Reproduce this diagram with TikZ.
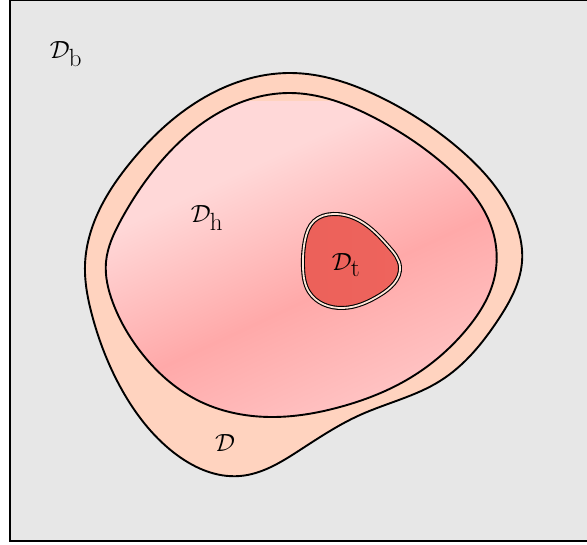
\documentclass[tikz,border=0pt]{standalone}
\usetikzlibrary{hobby}
\definecolor{bggray}{HTML}{E7E7E7}
\definecolor{peach}{HTML}{FFD3BF}
\definecolor{pinklight}{HTML}{FFD8D8}
\definecolor{pinkdark}{HTML}{FFA9A9}
\definecolor{pinkmid}{HTML}{FFC8C8}
\definecolor{redl}{HTML}{EC615A}
\definecolor{redd}{HTML}{E14D48}
\definecolor{redr}{HTML}{EE645D}
\definecolor{cream}{HTML}{FFE6D8}
\pgfdeclarehorizontalshading{pinkband}{100bp}{color(0bp)=(pinkmid); color(32bp)=(pinkmid); color(50bp)=(pinkdark); color(68bp)=(pinklight); color(100bp)=(pinklight)}
\tikzset{
  region/.style={draw=black, line width=1.9pt},
  lbl/.style={inner sep=0pt, font=\fontsize{37}{44}\selectfont}
}
\newcommand{\outerpath}{(290,73) .. (380,97) .. (457,147) .. (510,210) .. (522,262) .. (498,320) .. (440,381) .. (360,415) .. (300,450) .. (240,476) .. (173,452) .. (122,390) .. (92,315) .. (85,265) .. (97,215) .. (130,163) .. (200,100)}
\newcommand{\innerpath}{(290,93) .. (373,117) .. (447,167) .. (490,223) .. (495,275) .. (466,330) .. (410,378) .. (340,407) .. (270,417) .. (197,400) .. (140,351) .. (113,303) .. (106,262) .. (121,220) .. (158,165) .. (210,118)}
\newcommand{\tumorpath}{(333,214) .. (360,221) .. (389,247) .. (400,267) .. (380,295) .. (343,308) .. (309,292) .. (303,267) .. (305,240) .. (314,221)}
\begin{document}
\begin{tikzpicture}[x=1pt,y=-1pt]
\useasboundingbox (0,0) rectangle (587,545);
\clip (0,0) rectangle (587,545);
\draw[fill=bggray, line width=2.8pt] (10,0) rectangle (600,541);
% outer D
\path[region, fill=peach, use Hobby shortcut, closed=true] \outerpath;
% inner D_h
\begin{scope}
\clip[use Hobby shortcut, closed=true] \innerpath;
\shade[shading=pinkband, shading angle=115] (101,102) rectangle (501,502);
\end{scope}
\path[region, use Hobby shortcut, closed=true] \innerpath;
% D_t
\shade[left color=redl, middle color=redd, right color=redr, use Hobby shortcut, closed=true] \tumorpath;
\draw[line width=1.1pt, double=cream, double distance=1.8pt, use Hobby shortcut, closed=true] \tumorpath;
% labels
\node[lbl] (lb) at (66,54) {$\mathcal{D}_\mathrm{b}$};
\node[lbl] (lh) at (207,218) {$\mathcal{D}_\mathrm{h}$};
\node[lbl] (lt) at (346,265) {$\mathcal{D}_\mathrm{t}$};
\node[lbl] (ld) at (225,443) {$\mathcal{D}$};
\end{tikzpicture}
\end{document}
